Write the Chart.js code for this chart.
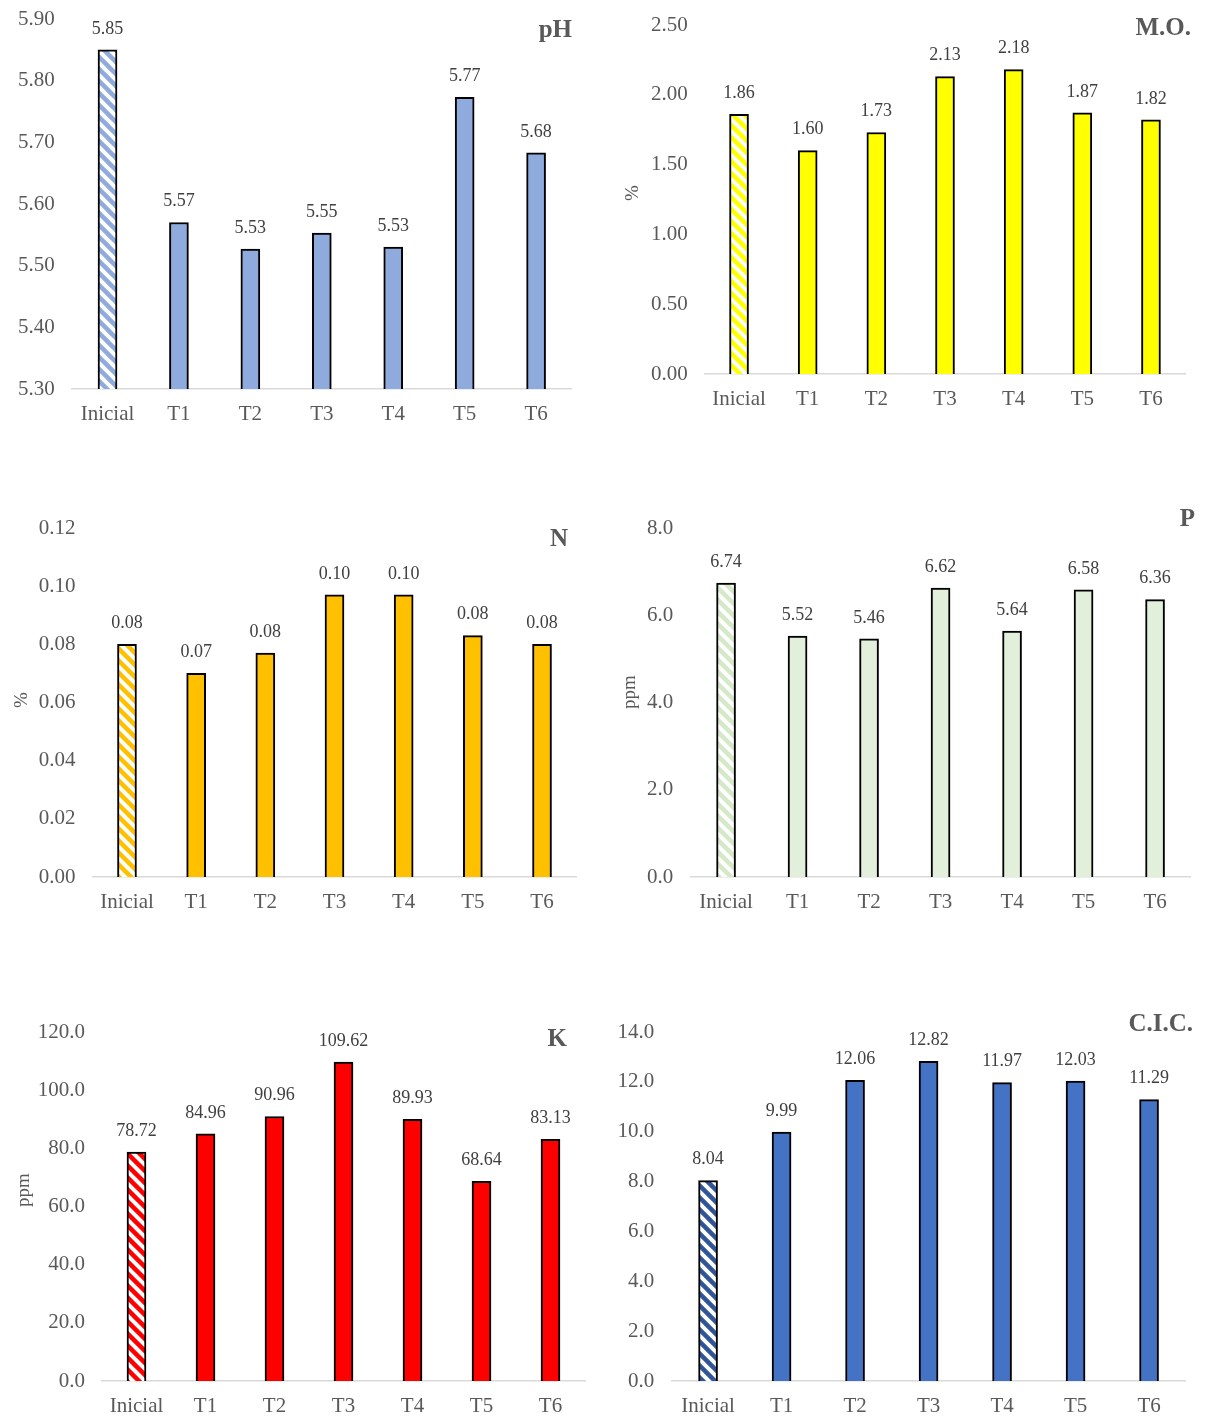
<!DOCTYPE html>
<html>
<head>
<meta charset="utf-8">
<script src="https://cdn.jsdelivr.net/npm/chart.js@4.4.1/dist/chart.umd.min.js"></script>
<style>
  body { margin: 0; background: #fff; width: 1205px; height: 1418px; position: relative; overflow: hidden; }
  .box { position: absolute; }
</style>
</head>
<body>
<div class="box"><canvas id="c1"></canvas></div>
<div class="box"><canvas id="c2"></canvas></div>
<div class="box"><canvas id="c3"></canvas></div>
<div class="box"><canvas id="c4"></canvas></div>
<div class="box"><canvas id="c5"></canvas></div>
<div class="box"><canvas id="c6"></canvas></div>
<script>
// data
const categories = ['Inicial', 'T1', 'T2', 'T3', 'T4', 'T5', 'T6'];
const phValues  = [5.85, 5.57, 5.527, 5.553, 5.53, 5.773, 5.683];
const moValues  = [1.86, 1.60, 1.73, 2.13, 2.18, 1.87, 1.82];
const nValues   = [0.080, 0.070, 0.077, 0.097, 0.097, 0.083, 0.080];
const pValues   = [6.74, 5.52, 5.46, 6.62, 5.64, 6.58, 6.36];
const kValues   = [78.72, 84.96, 90.96, 109.62, 89.93, 68.64, 83.13];
const cicValues = [8.04, 9.99, 12.06, 12.82, 11.97, 12.03, 11.29];

// y axis ticks: [min, max, step, decimals]
const phTicks  = [5.3, 5.9, 0.1, 2];
const moTicks  = [0, 2.5, 0.5, 2];
const nTicks   = [0, 0.12, 0.02, 2];
const pTicks   = [0, 8, 2, 1];
const kTicks   = [0, 120, 20, 1];
const cicTicks = [0, 14, 2, 1];

const FONT = "'Liberation Serif', 'Times New Roman', serif";

// wide downward diagonal fill for the "Inicial" bar
function hatch(color) {
  const s = 12;
  const c = document.createElement('canvas');
  c.width = s; c.height = s;
  const g = c.getContext('2d');
  g.fillStyle = '#fff';
  g.fillRect(0, 0, s, s);
  g.strokeStyle = color;
  g.lineWidth = 4.5;
  for (const k of [-s, 0, s]) {
    g.beginPath();
    g.moveTo(k - 3, -3);
    g.lineTo(k + s + 3, s + 3);
    g.stroke();
  }
  return g.createPattern(c, 'repeat');
}

const panelText = {
  id: 'panelText',
  afterDatasetsDraw(chart, args, opts) {
    const ctx = chart.ctx;
    const meta = chart.getDatasetMeta(0);
    const values = chart.data.datasets[0].data;
    ctx.save();
    ctx.fillStyle = '#404040';
    ctx.font = '18px ' + FONT;
    ctx.textAlign = 'center';
    ctx.textBaseline = 'middle';
    meta.data.forEach((bar, i) => {
      ctx.fillText(values[i].toFixed(2), bar.x, bar.y - 21);
    });
    ctx.fillStyle = '#595959';
    ctx.font = 'bold 25px ' + FONT;
    ctx.textAlign = 'right';
    ctx.fillText(opts.title, opts.tx, opts.ty);
    if (opts.ylab) {
      ctx.font = '19px ' + FONT;
      ctx.textAlign = 'center';
      ctx.translate(opts.yx, opts.yy);
      ctx.rotate(-Math.PI / 2);
      ctx.fillText(opts.ylab, 0, 0);
    }
    ctx.restore();
  }
};

function panel(id, values, ticks, color, hatchColor, box, plot, title, titlePos, ylab, ylabPos) {
  const el = document.getElementById(id);
  const wrap = el.parentNode;
  wrap.style.left = box[0] + 'px';
  wrap.style.top = box[1] + 'px';
  wrap.style.width = box[2] + 'px';
  wrap.style.height = box[3] + 'px';
  const yW = plot[0] - box[0];
  const xH = box[1] + box[3] - plot[3];
  new Chart(el, {
    type: 'bar',
    data: {
      labels: categories,
      datasets: [{
        data: values,
        backgroundColor: values.map((v, i) => i === 0 ? hatch(hatchColor) : color),
        borderColor: '#000',
        borderWidth: 2,
        barThickness: 19
      }]
    },
    options: {
      responsive: true,
      maintainAspectRatio: false,
      animation: false,
      layout: { padding: { left: 0, top: plot[1] - box[1], right: box[0] + box[2] - plot[2], bottom: 0 } },
      plugins: {
        legend: { display: false },
        tooltip: { enabled: false },
        panelText: {
          title: title, tx: titlePos[0] - box[0], ty: titlePos[1] - box[1],
          ylab: ylab, yx: ylabPos ? ylabPos[0] - box[0] : 0, yy: ylabPos ? ylabPos[1] - box[1] : 0
        }
      },
      scales: {
        x: {
          grid: { display: false, drawTicks: false },
          border: { display: true, color: '#d9d9d9', width: 1.5 },
          ticks: { color: '#595959', font: { family: FONT, size: 21 }, padding: 13 },
          afterFit: s => { s.height = xH; }
        },
        y: {
          min: ticks[0],
          max: ticks[1],
          grid: { display: false, drawTicks: false },
          border: { display: false },
          ticks: {
            stepSize: ticks[2],
            color: '#595959',
            font: { family: FONT, size: 21 },
            padding: 17,
            callback: v => Number(v).toFixed(ticks[3])
          },
          afterFit: s => { s.width = yW; }
        }
      }
    },
    plugins: [panelText]
  });
}

panel('c1', phValues, phTicks, '#8faadc', '#8faadc', [0, -30, 600, 480], [71.8, 19, 571.8, 389], 'pH', [572, 31], null, null);
panel('c2', moValues, moTicks, '#ffff00', '#ffff00', [600, -30, 605, 480], [704.7, 25, 1185.3, 374], 'M.O.', [1191, 29], '%', [633, 193]);
panel('c3', nValues, nTicks, '#ffc000', '#ffc000', [0, 470, 600, 460], [92.4, 528, 576.6, 877], 'N', [568, 540], '%', [22, 700]);
panel('c4', pValues, pTicks, '#e2efda', '#d5e8c8', [600, 470, 605, 460], [690.3, 528, 1190.8, 877], 'P', [1195, 520], 'ppm', [630, 692]);
panel('c5', kValues, kTicks, '#ff0000', '#ff0000', [0, 990, 600, 428], [102, 1032, 585, 1381], 'K', [567, 1040], 'ppm', [24, 1190]);
panel('c6', cicValues, cicTicks, '#4472c4', '#2f5597', [600, 990, 605, 428], [671.3, 1032, 1185.8, 1381], 'C.I.C.', [1193, 1025], null, null);
</script>
</body>
</html>
